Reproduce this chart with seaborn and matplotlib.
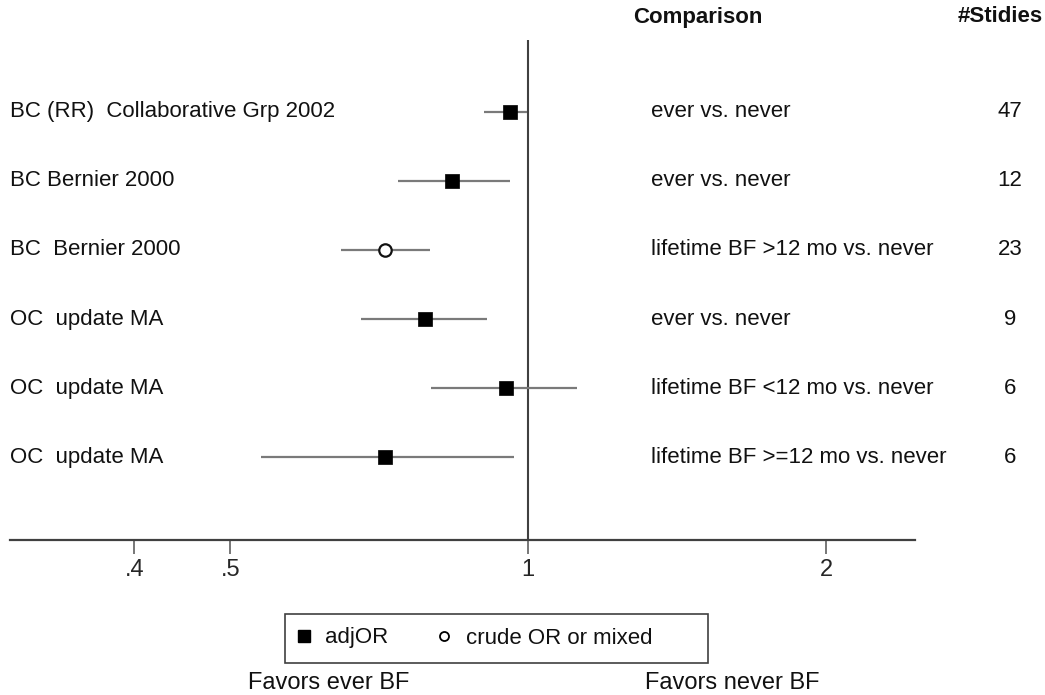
import matplotlib
matplotlib.use("Agg")
import matplotlib.pyplot as plt
import seaborn as sns
import pandas as pd
import numpy as np
from matplotlib.lines import Line2D
from matplotlib.patches import Rectangle

sns.set_theme(style="white")
plt.rcParams['font.family'] = ['Liberation Sans', 'DejaVu Sans']

# ---- data ----
studies = ["BC (RR)  Collaborative Grp 2002", "BC Bernier 2000", "BC  Bernier 2000",
           "OC  update MA", "OC  update MA", "OC  update MA"]
comparisons = ["ever vs. never", "ever vs. never", "lifetime BF >12 mo vs. never",
               "ever vs. never", "lifetime BF <12 mo vs. never", "lifetime BF >=12 mo vs. never"]
n_studies = [47, 12, 23, 9, 6, 6]
odds_ratio = [0.959, 0.838, 0.717, 0.787, 0.950, 0.717]
ci_low = [0.903, 0.739, 0.647, 0.678, 0.797, 0.537]
ci_high = [0.998, 0.959, 0.796, 0.909, 1.121, 0.968]
estimate_type = ["adjOR", "adjOR", "crude OR or mixed", "adjOR", "adjOR", "adjOR"]
tick_values = [0.4, 0.5, 1, 2]
tick_labels = [".4", ".5", "1", "2"]

df = pd.DataFrame({"study": studies, "comparison": comparisons, "n": n_studies,
                   "or": odds_ratio, "lo": ci_low, "hi": ci_high, "type": estimate_type})
df["row"] = np.arange(1, len(df) + 1)

W, H = 1045, 695
fig = plt.figure(figsize=(W / 100, H / 100), dpi=100)
ax = fig.add_axes([10 / W, (H - 540) / H, (915 - 10) / W, (540 - 40) / H])
ax.set_xscale("log")
ax.set_xlim(0.2995, 2.46)
ax.set_ylim(7.2, -0.04)

# CI lines
ax.hlines(df["row"], df["lo"], df["hi"], color="#7a7a7a", lw=1.6, zorder=2)
# reference line
ax.axvline(1, color="#404040", lw=1.5, zorder=1)

adj = df[df["type"] == "adjOR"]
crude = df[df["type"] != "adjOR"]
sns.scatterplot(data=adj, x="or", y="row", marker="s", s=105, color="black",
                edgecolor="black", linewidth=0.5, ax=ax, zorder=3, legend=False)
sns.scatterplot(data=crude, x="or", y="row", marker="o", s=80, facecolor="white",
                edgecolor="#111111", linewidth=1.6, ax=ax, zorder=3, legend=False)

ax.set_xticks(tick_values)
ax.set_xticklabels(tick_labels, fontsize=17)
ax.xaxis.set_minor_locator(matplotlib.ticker.NullLocator())
ax.tick_params(axis="x", bottom=True, length=10, width=1.2, color="#606060", pad=4)
ax.set_yticks([])
ax.set_xlabel("")
ax.set_ylabel("")
for s in ["top", "left", "right"]:
    ax.spines[s].set_visible(False)
ax.spines["bottom"].set_color("#404040")
ax.spines["bottom"].set_linewidth(1.6)


def fx(px):
    return px / W


def fy(py):
    return 1 - py / H


trans = matplotlib.transforms.blended_transform_factory(fig.transFigure, ax.transData)
for _, r in df.iterrows():
    ax.text(fx(10), r["row"], r["study"], transform=trans, fontsize=16, va="center", ha="left",
            color="#111111")
    ax.text(fx(651), r["row"], r["comparison"], transform=trans, fontsize=16, va="center",
            ha="left", color="#111111")
    ax.text(fx(1010), r["row"], str(r["n"]), transform=trans, fontsize=16, va="center",
            ha="center", color="#111111")

fig.text(fx(633), fy(17), "Comparison", fontsize=16, fontweight="bold", va="center", ha="left",
         color="#111111")
fig.text(fx(958), fy(17), "#Stidies", fontsize=16, fontweight="bold", va="center", ha="left",
         color="#111111")

# legend
handles = [Line2D([], [], marker="s", color="black", ls="none", markersize=8),
           Line2D([], [], marker="o", markerfacecolor="white", markeredgecolor="black",
                  ls="none", markersize=6.5, markeredgewidth=1.3)]
leg = fig.legend(handles, ["adjOR", "crude OR or mixed"], loc="center left",
                 bbox_to_anchor=(fx(297), fy(638)), ncol=2, fontsize=16, frameon=False,
                 handletextpad=0.68, columnspacing=2.2, handlelength=0.6,
                 borderpad=0, borderaxespad=0)
for t in leg.get_texts():
    t.set_color("#111111")
fig.patches.append(Rectangle((fx(285), fy(663)), fx(708) - fx(285), fy(614) - fy(663),
                             transform=fig.transFigure, fill=False, edgecolor="#404040",
                             linewidth=1.2))

fig.text(fx(248), fy(683), "Favors ever BF", fontsize=17, va="center", ha="left", color="#111111")
fig.text(fx(645), fy(683), "Favors never BF", fontsize=17, va="center", ha="left", color="#111111")

fig.savefig("out.png", dpi=100, facecolor="white")
